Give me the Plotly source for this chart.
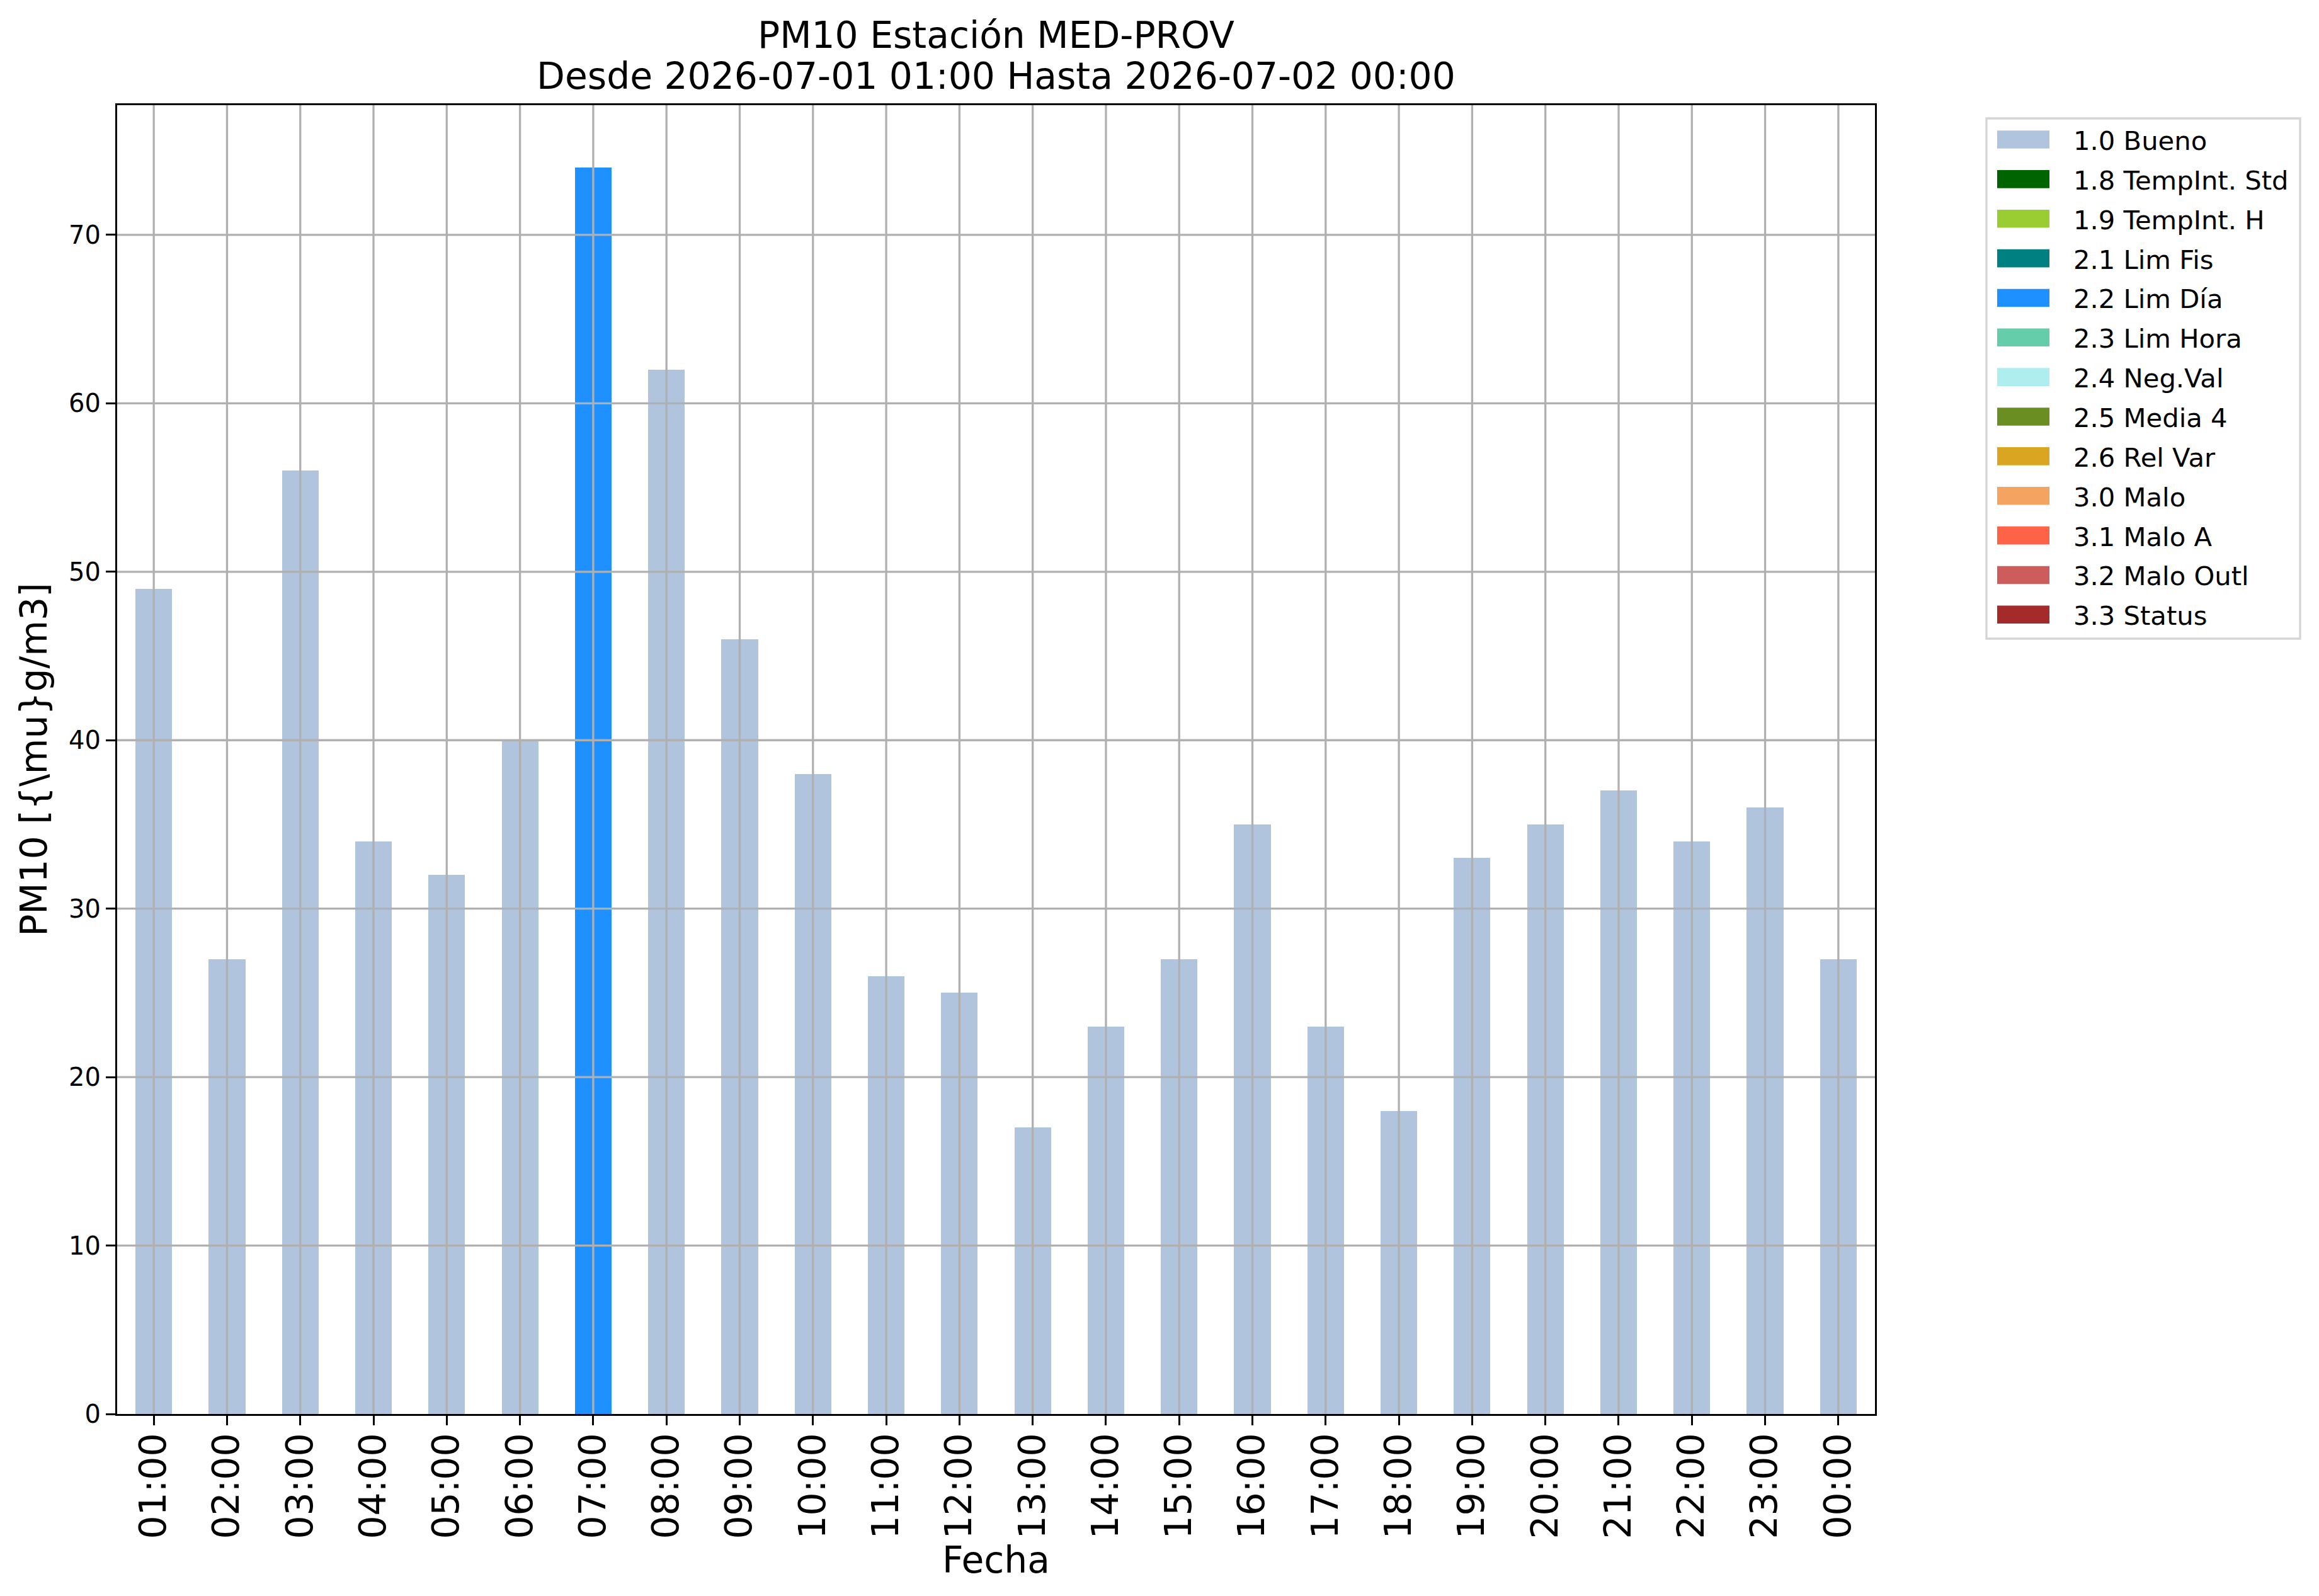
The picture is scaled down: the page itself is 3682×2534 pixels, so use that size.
import plotly.graph_objects as go

# datos: PM10 horario y flag de calidad
horas = ['01:00', '02:00', '03:00', '04:00', '05:00', '06:00', '07:00', '08:00',
         '09:00', '10:00', '11:00', '12:00', '13:00', '14:00', '15:00', '16:00',
         '17:00', '18:00', '19:00', '20:00', '21:00', '22:00', '23:00', '00:00']
pm10 = [49, 27, 56, 34, 32, 40, 74, 62, 46, 38, 26, 25, 17, 23, 27, 35,
        23, 18, 33, 35, 37, 34, 36, 27]
flags = ['1.0 Bueno'] * 6 + ['2.2 Lim Día'] + ['1.0 Bueno'] * 17

categorias = ['1.0 Bueno', '1.8 TempInt. Std', '1.9 TempInt. H', '2.1 Lim Fis',
              '2.2 Lim Día', '2.3 Lim Hora', '2.4 Neg.Val', '2.5 Media 4',
              '2.6 Rel Var', '3.0 Malo', '3.1 Malo A', '3.2 Malo Outl', '3.3 Status']
colores = ['#B0C4DE', '#006400', '#9ACD32', '#008080', '#1E90FF', '#66CDAA',
           '#AFEEEE', '#6B8E23', '#DAA520', '#F4A460', '#FF6347', '#CD5C5C', '#A52A2A']
y_ticks = [0, 10, 20, 30, 40, 50, 60, 70]

# la pagina tiene 8px de margen en el body, se descuentan aqui
OFF = 8
W, H = 3682 - 2 * OFF, 2534 - 2 * OFF
L, R, T, B = 186 - OFF, 2977 - OFF, 167 - OFF, 2245 - OFF   # area del grafico en px
FONT = 'DejaVu Sans'


def px_x(px):
    return (px - OFF - L) / (R - L)


def px_y(py):
    return (B - (py - OFF)) / (B - T)


fig = go.Figure()
for cat, col in zip(categorias, colores):
    fig.add_trace(go.Bar(
        x=horas,
        y=[v if f == cat else None for v, f in zip(pm10, flags)],
        name=cat,
        marker=dict(color=col, line=dict(width=0)),
        width=0.5,
        showlegend=False,
    ))

# grilla encima de las barras (como matplotlib)
shapes = []
for i in range(len(horas)):
    shapes.append(dict(type='line', xref='x', yref='paper', x0=i, x1=i, y0=0, y1=1,
                       line=dict(color='#b0b0b0', width=3.3), layer='above'))
for v in y_ticks[1:]:
    shapes.append(dict(type='line', xref='paper', yref='y', x0=0, x1=1, y0=v, y1=v,
                       line=dict(color='#b0b0b0', width=3.3), layer='above'))

# leyenda a mano (coordenadas en px de la imagen)
shapes.append(dict(type='rect', xref='paper', yref='paper',
                   x0=px_x(3154), x1=px_x(3652), y0=px_y(1014), y1=px_y(188),
                   line=dict(color='#d5d5d5', width=3.3), fillcolor='white', layer='above'))
annotations = []
for i, (cat, col) in enumerate(zip(categorias, colores)):
    cy = 221.5 + i * 62.86
    shapes.append(dict(type='rect', xref='paper', yref='paper',
                       x0=px_x(3171), x1=px_x(3254), y0=px_y(cy + 14.3), y1=px_y(cy - 14.3),
                       line=dict(width=0), fillcolor=col, layer='above'))
    annotations.append(dict(text=cat, xref='paper', yref='paper', x=px_x(3290), y=px_y(cy + 2),
                            xanchor='left', yanchor='middle', showarrow=False,
                            font=dict(family=FONT, size=41.7, color='black')))

# titulo en dos lineas
annotations.append(dict(text='PM10 Estación MED-PROV', xref='paper', yref='paper',
                        x=0.5, y=px_y(56), xanchor='center', yanchor='middle', showarrow=False,
                        font=dict(family=FONT, size=58.3, color='black')))
annotations.append(dict(text='Desde 2026-07-01 01:00 Hasta 2026-07-02 00:00', xref='paper',
                        yref='paper', x=0.5, y=px_y(121), xanchor='center', yanchor='middle',
                        showarrow=False, font=dict(family=FONT, size=58.3, color='black')))

fig.update_layout(
    width=W, height=H,
    margin=dict(l=L, r=W - R, t=T, b=H - B),
    plot_bgcolor='white', paper_bgcolor='white',
    barmode='stack',
    bargap=0.5,
    font=dict(family=FONT, color='black'),
    shapes=shapes,
    annotations=annotations,
    xaxis=dict(
        type='category', range=[-0.5, len(horas) - 0.5],
        showgrid=False, showline=True, linecolor='black', linewidth=3.3, mirror=True,
        ticks='outside', ticklen=15, tickwidth=3.3, tickcolor='black',
        tickangle=-90, tickfont=dict(family=FONT, size=58.3), ticklabelstandoff=-11,
        title=dict(text='Fecha', font=dict(family=FONT, size=58.3), standoff=1),
        zeroline=False,
    ),
    yaxis=dict(
        range=[0, 77.7], tickvals=y_ticks,
        showgrid=False, showline=True, linecolor='black', linewidth=3.3, mirror=True,
        ticks='outside', ticklen=15, tickwidth=3.3, tickcolor='black',
        tickfont=dict(family=FONT, size=40),
        title=dict(text='PM10 [{\\mu}g/m3]', font=dict(family=FONT, size=58.3), standoff=16),
        zeroline=False,
    ),
)

fig.write_html('out.html')
